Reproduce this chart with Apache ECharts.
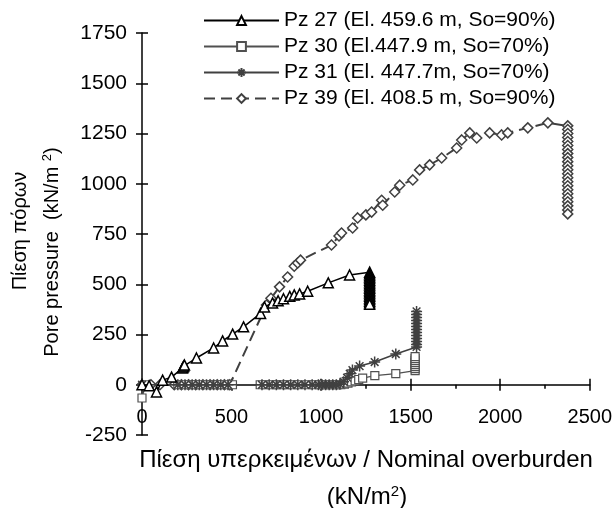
<!DOCTYPE html>
<html>
<head>
<meta charset="utf-8">
<script src="https://cdn.jsdelivr.net/npm/echarts@6/dist/echarts.min.js"></script>
<style>html,body{margin:0;padding:0;background:#fff}#c{width:615px;height:508px}</style>
</head>
<body>
<div id="c"></div>
<script>
var seriesNames = [
  'Pz 27 (El. 459.6 m, So=90%)',
  'Pz 30 (El.447.9 m, So=70%)',
  'Pz 31 (El. 447.7m, So=70%)',
  'Pz 39 (El. 408.5 m, So=90%)'
];
var xTicks = [0, 500, 1000, 1500, 2000, 2500];
var yTicks = [-250, 0, 250, 500, 750, 1000, 1250, 1500, 1750];

var pz27 = [[0,0],[40,-5],[81,-36],[115,23],[165,38],[226,83],[230,88],[233,93],[237,98],[304,133],[400,183],[450,218],[506,252],[567,288],[662,355],[684,387],[729,407],[760,418],[790,428],[825,440],[850,447],[880,452],[925,465],[1040,507],[1159,546],[1271,560],
  [1271,552],[1271,544],[1271,536],[1271,528],[1271,520],[1271,512],[1271,504],[1271,496],[1271,488],[1271,480],[1271,472],[1271,464],[1271,456],[1271,448],[1271,440],[1271,432],[1271,424],[1271,416],[1271,408],[1271,400]];

var pz30 = [[0,-66],[20,0],[200,0],[235,0],[265,0],[295,0],[325,0],[355,0],[385,0],[415,0],[445,0],[475,0],[505,0],[660,0],[690,0],[720,0],[750,0],[780,0],[810,0],[840,0],[870,0],[920,0],[960,0],[990,0],[1010,0],[1030,0],[1050,0],[1070,0],[1090,0],[1110,0],[1130,3],[1150,8],[1170,14],[1190,20],[1210,26],[1232,33],[1300,45],[1417,55],[1525,70],
  [1525,80],[1525,90],[1525,100],[1525,110],[1525,120],[1525,130],[1525,140]];

var pz31 = [[0,0],[200,0],[240,0],[280,0],[320,0],[360,0],[400,0],[440,0],[480,0],[670,0],[710,0],[750,0],[790,0],[830,0],[870,0],[910,0],[950,0],[985,0],[1005,0],[1025,0],[1045,0],[1065,0],[1085,0],[1105,3],[1125,15],[1145,35],[1160,55],[1175,73],[1215,93],[1299,113],[1417,153],[1533,188],
  [1533,200],[1533,215],[1533,230],[1533,245],[1533,260],[1533,275],[1533,290],[1533,305],[1533,320],[1533,335],[1533,350],[1533,365]];

var pz39 = [[0,0],[50,0],[100,0],[180,0],[220,0],[260,0],[300,0],[340,0],[380,0],[420,0],[460,0],[490,0],[695,397],[720,430],[768,487],[813,536],[850,590],[869,606],[885,620],[1058,695],[1100,740],[1114,755],[1176,780],[1204,830],[1250,845],[1282,859],[1338,918],[1344,893],[1411,959],[1439,993],[1512,1019],[1550,1069],[1606,1094],[1673,1128],[1757,1178],[1785,1218],[1830,1253],[1869,1228],[1941,1253],[2008,1243],[2042,1253],[2154,1278],[2266,1303],[2377,1288],
  [2377,1270],[2377,1250],[2377,1230],[2377,1210],[2377,1190],[2377,1170],[2377,1150],[2377,1130],[2377,1110],[2377,1090],[2377,1070],[2377,1050],[2377,1030],[2377,1010],[2377,990],[2377,970],[2377,950],[2377,930],[2377,910],[2377,890],[2377,870],[2377,850]];

var FONT = '"Liberation Sans", Arial, sans-serif';
var asterisk = 'path://M5 0 L5 10 M0 5 L10 5 M1.5 1.5 L8.5 8.5 M1.5 8.5 L8.5 1.5';

var chart = echarts.init(document.getElementById('c'), null, {renderer: 'canvas'});
var xMin = xTicks[0], xMax = xTicks[xTicks.length-1], xInt = xTicks[1]-xTicks[0];
var yMin = yTicks[0], yMax = yTicks[yTicks.length-1], yInt = yTicks[1]-yTicks[0];
function plain(v) { return String(v); }

function xAxisDef(inside) {
  return {
    type: 'value', min: xMin, max: xMax, interval: xInt, position: 'bottom',
    axisLine: {show: !inside, onZero: true, lineStyle: {color: '#000', width: 1.5}},
    axisTick: {show: true, inside: inside, length: 6, lineStyle: {color: '#000', width: 1.5}},
    minorTick: {show: !inside, splitNumber: 2, length: 4, lineStyle: {color: '#000', width: 1.5}},
    axisLabel: {show: !inside, margin: -28, color: '#000', fontSize: 20, fontFamily: FONT, formatter: plain},
    splitLine: {show: false}
  };
}
function yAxisDef(inside) {
  return {
    type: 'value', min: yMin, max: yMax, interval: yInt, position: 'left',
    axisLine: {show: !inside, onZero: true, lineStyle: {color: '#000', width: 1.5}},
    axisTick: {show: true, inside: inside, length: 6, lineStyle: {color: '#000', width: 1.5}},
    axisLabel: {show: !inside, margin: 15, color: '#000', fontSize: 21, fontFamily: FONT, formatter: plain},
    splitLine: {show: false}
  };
}

chart.setOption({
  animation: false,
  backgroundColor: '#fff',
  grid: {left: 142, right: 25, top: 33, bottom: 73, containLabel: false},
  xAxis: [xAxisDef(false), xAxisDef(true)],
  yAxis: [yAxisDef(false), yAxisDef(true)],
  legend: {
    orient: 'vertical', left: 203, top: 10, itemGap: 5, itemWidth: 75, itemHeight: 11,
    padding: 0,
    textStyle: {fontSize: 21, fontFamily: FONT, color: '#000'},
    data: seriesNames
  },
  graphic: [
    {type: 'text', x: 20, y: 231, rotation: Math.PI/2,
     style: {text: 'Πίεση πόρων', fontSize: 20, fontFamily: FONT, fill: '#000', align: 'center', verticalAlign: 'middle'}},
    {type: 'text', x: 52, y: 252, rotation: Math.PI/2,
     style: {text: 'Pore pressure  (kN/m {s|2})', fontSize: 20, fontFamily: FONT, fill: '#000', align: 'center', verticalAlign: 'middle',
       rich: {s: {fontSize: 13, fontFamily: FONT, fill: '#000', verticalAlign: 'top', lineHeight: 22}}}},
    {type: 'text', x: 366, y: 460,
     style: {text: 'Πίεση υπερκειμένων / Nominal overburden', fontSize: 24, fontFamily: FONT, fill: '#000', align: 'center', verticalAlign: 'middle'}},
    {type: 'text', x: 367, y: 497,
     style: {text: '(kN/m{s|2})', fontSize: 24, fontFamily: FONT, fill: '#000', align: 'center', verticalAlign: 'middle',
       rich: {s: {fontSize: 15, fontFamily: FONT, fill: '#000', verticalAlign: 'top', lineHeight: 26}}}}
  ],
  series: [
    {name: seriesNames[3], type: 'line', data: pz39, z: 2,
     symbol: 'diamond', symbolSize: 10, showAllSymbol: true,
     lineStyle: {color: '#404040', width: 2, type: [11, 6]},
     itemStyle: {color: '#fff', borderColor: '#404040', borderWidth: 1.5}},
    {name: seriesNames[1], type: 'line', data: pz30, z: 3,
     symbol: 'rect', symbolSize: 8, showAllSymbol: true,
     lineStyle: {color: '#505050', width: 1.2},
     itemStyle: {color: '#fff', borderColor: '#505050', borderWidth: 1.2}},
    {name: seriesNames[2], type: 'line', data: pz31, z: 4,
     symbol: asterisk, symbolSize: 11, showAllSymbol: true,
     lineStyle: {color: '#404040', width: 1.5},
     itemStyle: {color: 'none', borderColor: '#404040', borderWidth: 1.5}},
    {name: seriesNames[0], type: 'line', data: pz27, z: 5,
     symbol: 'triangle', symbolSize: 10, showAllSymbol: true,
     lineStyle: {color: '#000', width: 1.5},
     itemStyle: {color: '#fff', borderColor: '#000', borderWidth: 1.5}}
  ]
});
</script>
</body>
</html>
